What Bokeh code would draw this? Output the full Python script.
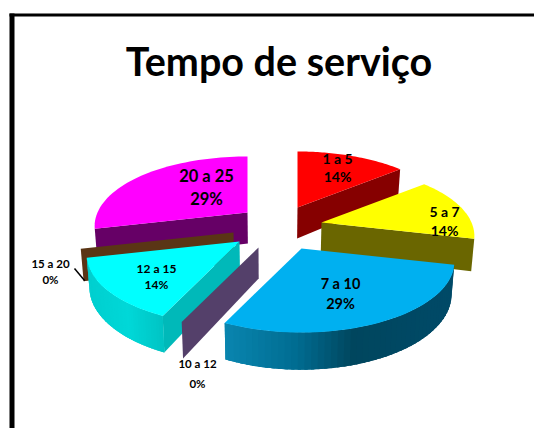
import math
from bokeh.plotting import figure
from bokeh.embed import file_html
from bokeh.resources import INLINE
from bokeh.core.properties import value

TITLE = "Tempo de serviço"
CATEGORIES = ["1 a 5", "5 a 7", "7 a 10", "10 a 12", "12 a 15", "15 a 20", "20 a 25"]
COUNTS = [1, 1, 2, 0, 1, 0, 2]

# ---- style and layout, kept apart from the data ----
TOP = ["#ff0000", "#ffff00", "#00b0f0", "#54406a", "#00ffff", "#5a3515", "#ff00ff"]
WALL = ["#860000", "#6a6600", "#00506e", "#54406a", "#00b9b9", "#5a3515", "#660066"]
# exploded apex of every slice, in page pixels
APEX = [(297, 207), (321, 222), (301, 248), (258, 247), (239, 241), (233, 232), (247, 212)]
# which radial wall shows: 0 = leading edge, 1 = trailing edge
RADIAL = [1, 1, None, 0, 0, 0, 0]
DRAW_ORDER = [6, 0, 1, 5, 4, 3, 2]
RX, RY, PERSP, DEPTH, SHRINK = 150, 70, 0.2, 31, 0.015
CX = 271
LABEL_POS = [((337, 158), (337, 176)), ((444, 211), (444, 230)), ((340, 283), (340, 303)),
             ((197, 363), (197, 383)), ((156, 268), (156, 284)), ((50, 263), (50, 279)),
             ((206, 175), (206, 198))]
LABEL_SIZE = [14, 14, 14.5, 11.5, 12, 11.5, 16.5]


def top_pt(apex, th, r=1.0):
    w = 1 - PERSP * math.cos(th) * r
    return (apex[0] + RX * r * math.sin(th) * w, apex[1] - RY * r * math.cos(th) * w)


def bottom_pt(apex, th, r=1.0):
    x, y = top_pt(apex, th, r)
    return (x + (CX - x) * SHRINK, y + DEPTH * (1 - PERSP * math.cos(th) * r))


def lerp_color(stops, x):
    stops = sorted(stops)
    if x <= stops[0][0]:
        return stops[0][1]
    for (a, ca), (b, cb) in zip(stops, stops[1:]):
        if x <= b:
            t = (x - a) / (b - a)
            ra = [int(ca[i:i + 2], 16) for i in (1, 3, 5)]
            rb = [int(cb[i:i + 2], 16) for i in (1, 3, 5)]
            return "#%02x%02x%02x" % tuple(round(u + (v - u) * t) for u, v in zip(ra, rb))
    return stops[-1][1]


OUTER = {
    2: [(226, "#0a86b0"), (300, "#006d92"), (358, "#00465e"), (456, "#004a68")],
    4: [(88, "#00cfcf"), (125, "#00d8d8"), (163, "#00c2c2")],
}

total = sum(COUNTS)
starts, acc = [], 0
for c in COUNTS:
    starts.append(acc / total * 2 * math.pi)
    acc += c

xs, ys, colors = [], [], []


def add(poly, col):
    xs.append([q[0] for q in poly])
    ys.append([q[1] for q in poly])
    colors.append(col)


for i in DRAW_ORDER:
    a0 = starts[i]
    a1 = a0 + COUNTS[i] / total * 2 * math.pi
    ap = APEX[i]
    if RADIAL[i] is not None:
        th = a1 if RADIAL[i] else a0
        add([top_pt(ap, th, 0), top_pt(ap, th), bottom_pt(ap, th), bottom_pt(ap, th, 0)], WALL[i])
    if COUNTS[i] == 0:
        continue
    n = 48
    angles = [a0 + (a1 - a0) * k / n for k in range(n + 1)]
    if i in OUTER:
        # every band runs on under the next one, so no seam shows between them
        if i == 2:
            seq = list(zip(angles, angles[1:] + [a1]))[::-1]
            seq = [(t0, min(t0 + 2.5 * (a1 - a0) / n, a1)) for t0, _ in seq]
        else:
            seq = [(max(t1 - 2.5 * (a1 - a0) / n, a0), t1) for t0, t1 in zip(angles, angles[1:])]
        for t0, t1 in seq:
            mx = (top_pt(ap, t0)[0] + top_pt(ap, t1)[0]) / 2
            add([top_pt(ap, t0), top_pt(ap, t1), bottom_pt(ap, t1), bottom_pt(ap, t0)],
                lerp_color(OUTER[i], mx))
    add([top_pt(ap, 0, 0)] + [top_pt(ap, t) for t in angles], TOP[i])

p = figure(width=534, height=428, x_range=(0, 534), y_range=(428, 0),
           output_backend="svg", toolbar_location=None, min_border=0,
           x_axis_location=None, y_axis_location=None)
p.outline_line_color = None
p.grid.visible = False
p.background_fill_color = "white"
p.border_fill_color = "white"

# outer frame of the slide
p.quad(left=[9, 9], right=[14, 534], top=[13, 13], bottom=[428, 16],
       fill_color="black", line_color=None)

p.patches(xs, ys, fill_color=colors, line_color=None)

# leader line of the 15 a 20 label
leader = top_pt(APEX[5], starts[5])
p.line([74, leader[0] + 4], [268, leader[1] + 32], line_color="black", line_width=1.5)

tx, ty, tt, ts = [], [], [], []
for i, cat in enumerate(CATEGORIES):
    pct = f"{round(COUNTS[i] / total * 100)}%"
    for (x, y), s in zip(LABEL_POS[i], (cat, pct)):
        tx.append(x)
        ty.append(y)
        tt.append(s)
        ts.append(f"{LABEL_SIZE[i]}px")

p.text(tx, ty, text=tt, text_font=value("Lato"), text_font_style="bold",
       text_font_size=ts, text_align="center", text_baseline="middle", text_color="black")
p.text([278.5], [60], text=[TITLE], text_font=value("Lato"), text_font_style="bold",
       text_font_size=value("39.5px"), text_align="center", text_baseline="middle", text_color="black")

open("out.html", "w").write(file_html(p, INLINE))
